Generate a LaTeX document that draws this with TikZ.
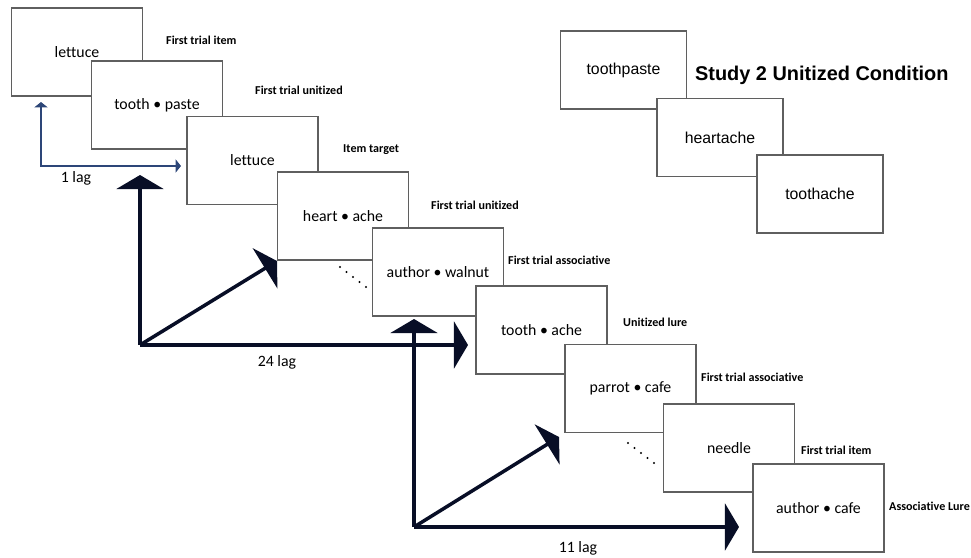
\documentclass[tikz,border=0pt]{standalone}
\usepackage{fontspec}
\setmainfont{Carlito}[Ligatures=NoCommon]
\newfontfamily\arialfont{Liberation Sans}
\usetikzlibrary{arrows.meta,calc}
\definecolor{rahmen}{RGB}{95,95,95}
\definecolor{pfeil}{RGB}{8,14,38}
\definecolor{pfeilblau}{RGB}{45,70,120}

\begin{document}
\begin{tikzpicture}[x=0.03cm, y=-0.03cm,
    card/.style={draw=rahmen, line width=0.9pt, fill=white, minimum width=3.93cm,
      minimum height=2.64cm, inner sep=0pt, font=\fontsize{13.5}{16}\selectfont},
    wordcard/.style={card, minimum width=3.78cm, minimum height=2.34cm,
      font=\arialfont\fontsize{13.5}{16}\selectfont},
    cue/.style={anchor=west, inner sep=0pt, font=\bfseries\fontsize{10.3}{12}\selectfont},
    lag/.style={font=\fontsize{13.5}{16}\selectfont},
    lagarrow/.style={pfeil, line width=3pt, -{Triangle[width=40pt,length=12pt]}},
    smallarrow/.style={pfeilblau, line width=1.3pt,
      {Triangle[width=11pt,length=4.5pt]}-{Triangle[width=11pt,length=4.5pt]}}]
    \useasboundingbox (0,0) rectangle (971,558);

    % Karten der Liste
    \node[card] (b1) at (77,52) {lettuce};
    \node[card] (b2) at (157,105) {tooth • paste};
    \node[card] (b3) at (252.5,160.5) {lettuce};
    \node[card] (b4) at (343,216) {heart • ache};
    \node[card] (b5) at (438,272) {author • walnut};
    \node[card] (b6) at (541.5,330) {tooth • ache};
    \node[card] (b7) at (630.5,388.5) {parrot • cafe};
    \node[card] (b8) at (729,448) {needle};
    \node[card] (b9) at (818.5,508) {author • cafe};

    % Beschriftungen
    \node[cue] (c1) at (166,40) {First trial item};
    \node[cue] (c2) at (255,90) {First trial unitized};
    \node[cue] (c3) at (343,150) {Item target};
    \node[cue] (c4) at (431,205) {First trial unitized};
    \node[cue] (c5) at (508,260) {First trial associative};
    \node[cue] (c6) at (623,322) {Unitized lure};
    \node[cue] (c7) at (701,377) {First trial associative};
    \node[cue] (c8) at (801,450) {First trial item};
    \node[cue] (c9) at (889,506) {Associative Lure};

    % Beispiel rechts oben
    \node[wordcard] (r1) at (623.5,70) {toothpaste};
    \node[wordcard] (r2) at (720,137.5) {heartache};
    \node[wordcard] (r3) at (820,194) {toothache};
    \node[anchor=west, font=\arialfont\bfseries\fontsize{17}{20}\selectfont] (titel)
      at (691,75) {Study 2 Unitized Condition};

    % 1 lag
    \coordinate (k1) at (41,102);
    \coordinate (e1) at (181,166);
    \draw[smallarrow] (k1) |- (e1);
    \node[lag] (t1) at (76,178) {1 lag};

    % 24 lag
    \coordinate (o24) at (140,345);
    \coordinate (o24u) at (140,175);
    \coordinate (o24r) at (468,345);
    \coordinate (o24d) at (277,261);
    \draw[lagarrow] (o24) -- (o24u);
    \draw[lagarrow] (o24) -- (o24r);
    \draw[lagarrow] (o24) -- (o24d);
    \node[lag] (t24) at (277,362) {24 lag};

    % 11 lag
    \coordinate (o11) at (414,527);
    \coordinate (o11u) at (414,319);
    \coordinate (o11r) at (739,527);
    \coordinate (o11d) at (559,437);
    \draw[lagarrow] (o11) -- (o11u);
    \draw[lagarrow] (o11) -- (o11r);
    \draw[lagarrow] (o11) -- (o11d);
    \node[lag] (t11) at (578,548) {11 lag};

    % Punkte
    \coordinate (p1a) at (340,267);
    \coordinate (p1b) at (366,287);
    \coordinate (p2a) at (628,443);
    \coordinate (p2b) at (654,463);
    \foreach \i in {0,...,4} {
      \fill ($(p1a)!\i/4!(p1b)$) circle (0.9pt);
      \fill ($(p2a)!\i/4!(p2b)$) circle (0.9pt);
    }
  \end{tikzpicture}
\end{document}
